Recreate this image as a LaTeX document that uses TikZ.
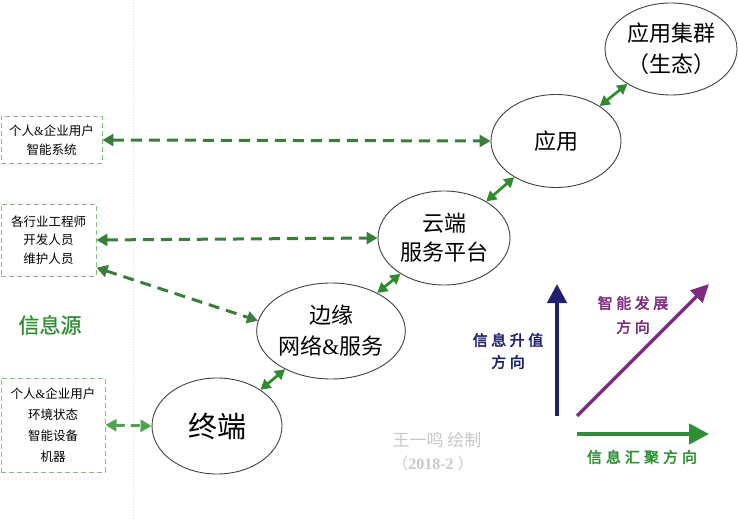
\documentclass[tikz,border=0pt]{standalone}
\usepackage{fontspec}
\setmainfont{Liberation Serif}
\newfontfamily\cjk{Noto Sans CJK SC}
\newfontfamily\cjkb[FakeBold=2.5]{Noto Sans CJK SC}
\newfontfamily\cjkm[FakeBold=0.8]{Noto Sans CJK SC}
\usetikzlibrary{shapes.geometric,arrows.meta}
\definecolor{dgreen}{HTML}{3B7D3B}
\definecolor{lgreen}{HTML}{4DA64D}
\definecolor{boxgreen}{HTML}{7CC47C}
\definecolor{lkgreen}{HTML}{2E8B2E}
\definecolor{navy}{HTML}{1F2070}
\definecolor{purp}{HTML}{7F2A80}
\definecolor{agreen}{HTML}{2F8F35}
\definecolor{wm}{HTML}{C8C8C8}
\begin{document}
\begin{tikzpicture}[x=1pt,y=-1pt,
  ell/.style={draw=black!75, line width=0.9pt, ellipse, inner sep=0pt, align=center, text=black},
  srcbox/.style={draw=boxgreen, dashed, dash pattern=on 5pt off 3pt, line width=0.9pt, rectangle, inner sep=0pt, align=center, font=\cjk\fontsize{12.5}{18.5}\selectfont},
  darr/.style={draw=dgreen, line width=3pt, dash pattern=on 11pt off 7pt, {Triangle[length=11pt,width=12pt]}-{Triangle[length=11pt,width=12pt]}},
  link/.style={draw=lkgreen, line width=2.7pt, {Triangle[length=10pt,width=11pt]}-{Triangle[length=10pt,width=11pt]}},
  axlab/.style={align=center, inner sep=0pt}
]
\useasboundingbox (0,0) rectangle (738,521);
\draw[black!12, dotted, line width=0.8pt] (133,0) -- (133,521);

% ellipses
\node[ell, minimum width=132pt, minimum height=92pt, font=\cjk\fontsize{22}{31}\selectfont] (jq) at (671,49) {应用集群\\（生态）};
\node[ell, minimum width=130pt, minimum height=93pt, font=\cjk\fontsize{22}{30}\selectfont] (yy) at (556,141) {应用};
\node[ell, minimum width=132pt, minimum height=94pt, font=\cjk\fontsize{22}{29}\selectfont] (yd) at (444,238) {云端\\服务平台};
\node[ell, minimum width=132pt, minimum height=96pt, font=\cjk\fontsize{22}{31}\selectfont] (by) at (331,331) {边缘\\网络{\rmfamily\&}服务};
\node[ell, minimum width=130pt, minimum height=96pt, font=\cjk\fontsize{29}{31}\selectfont] (zd) at (217,426) {终端};

% source boxes
\node[srcbox, minimum width=101pt, minimum height=47pt] (b1) at (51.5,140) {个人{\rmfamily\&}企业用户\\智能系统};
\node[srcbox, minimum width=95pt, minimum height=72pt] (b2) at (48.5,240) {各行业工程师\\开发人员\\维护人员};
\node[srcbox, minimum width=104pt, minimum height=94pt, font=\cjk\fontsize{12.5}{21}\selectfont] (b3) at (53,425) {个人{\rmfamily\&}企业用户\\环境状态\\智能设备\\机器};

\node[font=\cjkm\fontsize{21}{24}\selectfont, text=lkgreen, inner sep=0pt] (src) at (50,325) {信息源};

% dashed arrows
\draw[darr] (b1.east) -- (yy.west);
\draw[darr] (b2.east) -- (yd.west);
\draw[darr] (b2.-30) -- (by.172);
\draw[darr, draw=lgreen, dash pattern=on 9pt off 6pt] (b3.east) -- (zd.west);

% links between ellipses
\draw[link] (zd) -- (by);
\draw[link] (by) -- (yd);
\draw[link] (yd) -- (yy);
\draw[link] (yy) -- (jq);

% direction axes
\coordinate (o1) at (557,416);
\coordinate (t1) at (557,284);
\coordinate (o2) at (577,416);
\coordinate (t2) at (709,284);
\coordinate (o3) at (577,434);
\coordinate (t3) at (709,434);
\draw[navy, line width=4.5pt, -{Triangle[length=19pt,width=19pt]}] (o1) -- (t1);
\draw[purp, line width=3.5pt, -{Triangle[length=18pt,width=17pt]}] (o2) -- (t2);
\draw[agreen, line width=4.5pt, -{Triangle[length=20pt,width=20pt]}] (o3) -- (t3);

\node[axlab, text=navy, font=\cjkb\fontsize{15}{22}\selectfont] (l1) at (508,351) {信\hspace{3.5pt}息\hspace{3.5pt}升\hspace{3.5pt}值\\方\hspace{3.5pt}向};
\node[axlab, text=purp, font=\cjkb\fontsize{15}{24}\selectfont] (l2) at (633,315) {智\hspace{3.5pt}能\hspace{3.5pt}发\hspace{3.5pt}展\\方\hspace{3.5pt}向};
\node[axlab, text=agreen, font=\cjkb\fontsize{15}{22}\selectfont] (l3) at (642,457) {信\hspace{4pt}息\hspace{4pt}汇\hspace{4pt}聚\hspace{4pt}方\hspace{4pt}向};

% watermark
\node[axlab, text=wm, font=\cjk\fontsize{17}{20}\selectfont] (w1) at (437,440) {王一鸣 绘制};
\node[axlab, text=wm, font=\cjk\fontsize{16}{20}\selectfont] (w2) at (433,463) {（{\rmfamily\bfseries 2018-2 }）};
\end{tikzpicture}
\end{document}
